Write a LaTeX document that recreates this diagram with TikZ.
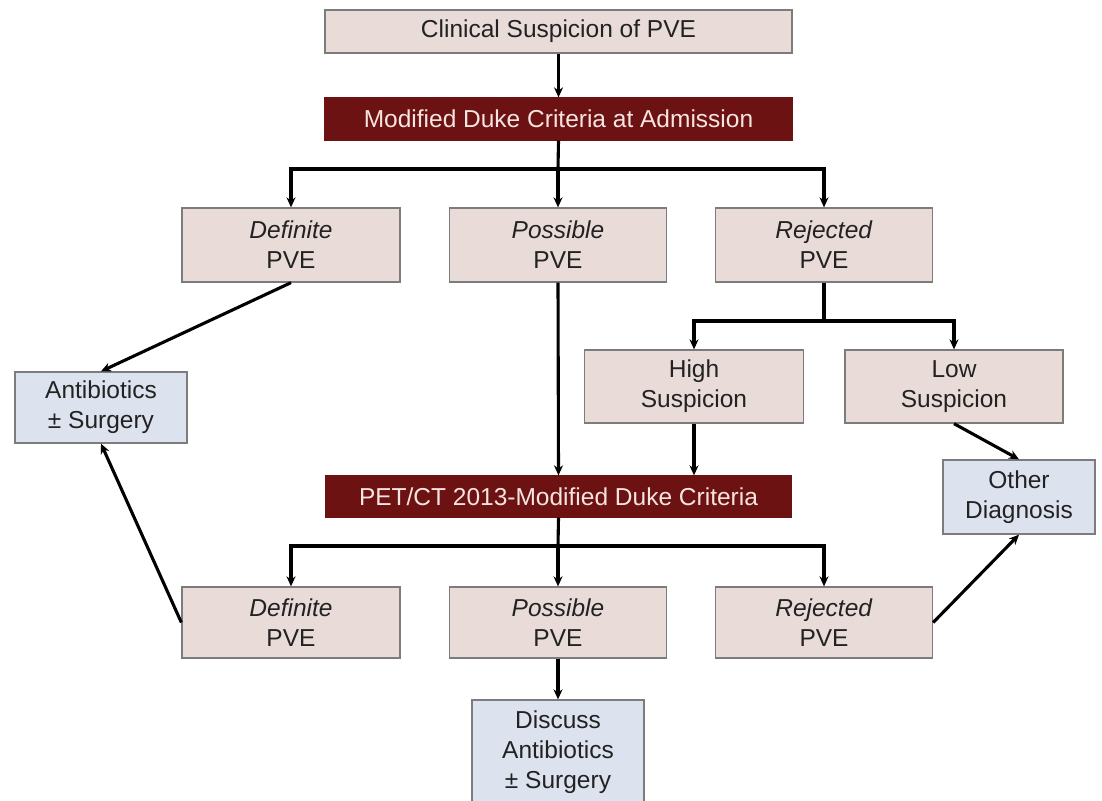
\documentclass[tikz,border=0pt]{standalone}
\usepackage{fontspec}
\setmainfont{Liberation Sans}
\usetikzlibrary{arrows.meta}
\definecolor{pinkfill}{HTML}{E9DCD8}
\definecolor{bluefill}{HTML}{DDE3EE}
\definecolor{darkfill}{HTML}{6D1212}
\definecolor{darktext}{HTML}{F6E4E0}
\definecolor{boxline}{HTML}{7C7C7C}
\definecolor{txt}{HTML}{222222}
\begin{document}
\begin{tikzpicture}[x=1pt,y=-1pt,
  base/.style={draw=boxline,line width=1.3pt,inner sep=0pt,align=center,
    font=\fontsize{24.5}{30}\selectfont,text=txt},
  pinkbox/.style={base,fill=pinkfill},
  bluebox/.style={base,fill=bluefill},
  darkbox/.style={base,draw=darkfill,fill=darkfill,text=darktext},
  conn/.style={line width=3.1pt,draw=black},
  arr/.style={conn,-{Stealth[length=10pt,width=9pt]}}]
\useasboundingbox[fill=white] (0,0) rectangle (1102,800);

\node[pinkbox,minimum width=467pt,minimum height=43pt] (top) at (558.5,31.5) {Clinical Suspicion of PVE};
\node[darkbox,minimum width=467pt,minimum height=42pt] (duke) at (558.5,119) {Modified Duke Criteria at Admission};

\node[pinkbox,minimum width=218pt,minimum height=74pt] (d1) at (291,245) {\textit{Definite}\\PVE};
\node[pinkbox,minimum width=217pt,minimum height=74pt] (p1) at (558,245) {\textit{Possible}\\PVE};
\node[pinkbox,minimum width=217pt,minimum height=74pt] (r1) at (824,245) {\textit{Rejected}\\PVE};

\node[bluebox,minimum width=172pt,minimum height=71pt] (anti) at (101,407.5) {Antibiotics\\± Surgery};
\node[pinkbox,minimum width=219pt,minimum height=73pt] (high) at (694,386.5) {High\\Suspicion};
\node[pinkbox,minimum width=218pt,minimum height=73pt] (low) at (954,386.5) {Low\\Suspicion};
\node[bluebox,minimum width=152pt,minimum height=74pt] (other) at (1019,497) {Other\\Diagnosis};

\node[darkbox,minimum width=465pt,minimum height=41pt] (pet) at (558.5,496.5) {PET/CT 2013-Modified Duke Criteria};

\node[pinkbox,minimum width=218pt,minimum height=71pt] (d2) at (291,622.5) {\textit{Definite}\\PVE};
\node[pinkbox,minimum width=217pt,minimum height=71pt] (p2) at (558,622.5) {\textit{Possible}\\PVE};
\node[pinkbox,minimum width=217pt,minimum height=71pt] (r2) at (824,622.5) {\textit{Rejected}\\PVE};

\node[bluebox,minimum width=172pt,minimum height=104pt] (disc) at (558,752) {Discuss\\Antibiotics\\± Surgery};

\coordinate (br1) at (558,169);
\coordinate (br2) at (824,321);
\coordinate (br3) at (558,546);

\draw[arr] (top.south) -- (duke.north);
\draw[conn] (duke.south) -- (br1);
\draw[arr] (br1) -| (d1.north);
\draw[arr] (br1) -| (r1.north);
\draw[arr] (br1) -- (p1.north);

\draw[arr] (d1.south) -- (anti.north);
\draw[arr] (p1.south) -- (pet.north);

\draw[conn] (r1.south) -- (br2);
\draw[arr] (br2) -| (high.north);
\draw[arr] (br2) -| (low.north);
\draw[arr] (high.south) -- (high.south |- pet.north);
\draw[arr] (low.south) -- (other.north);

\draw[conn] (pet.south) -- (br3);
\draw[arr] (br3) -| (d2.north);
\draw[arr] (br3) -| (r2.north);
\draw[arr] (br3) -- (p2.north);

\draw[arr] (d2.west) -- (anti.south);
\draw[arr] (r2.east) -- (other.south);
\draw[arr] (p2.south) -- (disc.north);
\end{tikzpicture}
\end{document}
